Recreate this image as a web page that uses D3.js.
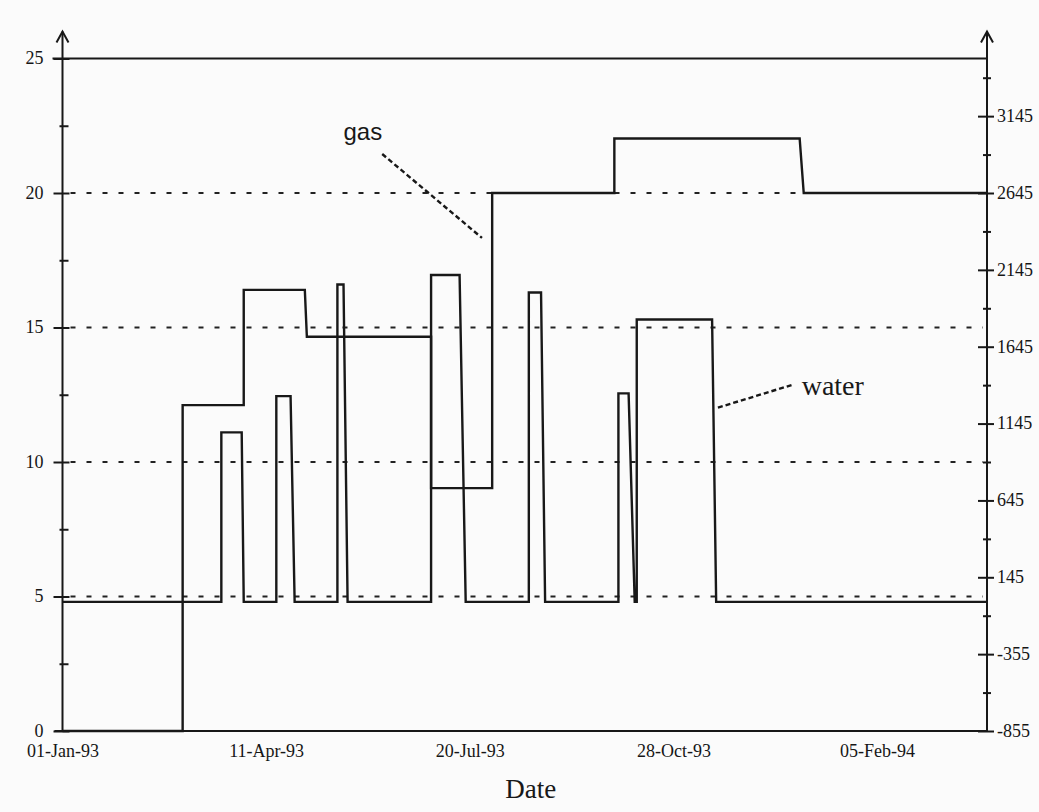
<!DOCTYPE html>
<html>
<head>
<meta charset="utf-8">
<script src="https://cdn.jsdelivr.net/npm/d3@7"></script>
<style>
  body { margin: 0; background: #fbfbfb; }
  svg { display: block; }
  .tick text { font-family: "Liberation Serif", "Times New Roman", serif; font-size: 18px; fill: #161616; }
</style>
</head>
<body>
<div id="chart"></div>
<script>
// step series: [date, value]
var water = [
  ["1993-01-01", 4.8],
  ["1993-03-20", 4.8], ["1993-03-20", 11.1], ["1993-03-30", 11.1], ["1993-03-31", 4.8],
  ["1993-04-16", 4.8], ["1993-04-16", 12.45], ["1993-04-23", 12.45], ["1993-04-25", 4.8],
  ["1993-05-16", 4.8], ["1993-05-16", 16.6], ["1993-05-19", 16.6], ["1993-05-21", 4.8],
  ["1993-07-01", 4.8], ["1993-07-01", 16.95], ["1993-07-15", 16.95], ["1993-07-18", 4.8],
  ["1993-08-18", 4.8], ["1993-08-18", 16.3], ["1993-08-24", 16.3], ["1993-08-26", 4.8],
  ["1993-10-01", 4.8], ["1993-10-01", 12.55], ["1993-10-06", 12.55], ["1993-10-09", 4.8],
  ["1993-10-10", 4.8], ["1993-10-10", 15.3], ["1993-11-16", 15.3], ["1993-11-18", 4.8],
  ["1994-03-31", 4.8]
];
// gas uses the right axis
var gas = [
  ["1993-01-01", -855], ["1993-03-01", -855], ["1993-03-01", 1265], ["1993-03-31", 1265],
  ["1993-03-31", 2015], ["1993-04-30", 2015], ["1993-05-01", 1710], ["1993-07-01", 1710],
  ["1993-07-01", 725], ["1993-07-31", 725], ["1993-07-31", 2645], ["1993-09-29", 2645],
  ["1993-09-29", 3000], ["1993-12-29", 3000], ["1993-12-31", 2645], ["1994-03-31", 2645]
];
var dateTicks = ["1993-01-01", "1993-04-11", "1993-07-20", "1993-10-28", "1994-02-05"];
var leftTicks = [0, 5, 10, 15, 20, 25];
var leftMinor = [2.5, 7.5, 12.5, 17.5, 22.5];
var rightTicks = [-855, -355, 145, 645, 1145, 1645, 2145, 2645, 3145];
var rightMinor = [-605, -105, 395, 895, 1395, 1895, 2395, 2895, 3395];
var dottedLevels = [5, 10, 15, 20];
// labels with their pointer lines (left axis units)
var labels = [
  { text: "gas", date: "1993-05-19", value: 21.97, font: "\"Liberation Sans\", Arial, sans-serif", size: 24,
    from: ["1993-06-07", 21.45], to: ["1993-07-26", 18.33] },
  { text: "water", date: "1993-12-30", value: 12.49, font: "\"Liberation Serif\", serif", size: 28,
    from: ["1993-12-25", 12.86], to: ["1993-11-18", 12.0] }
];

var parse = d3.timeParse("%Y-%m-%d");
var fmt = d3.timeFormat("%d-%b-%y");
var ink = "#181818";

var width = 1039, height = 812;
var svg = d3.select("#chart").append("svg")
  .attr("width", width)
  .attr("height", height);

var x = d3.scaleTime()
  .domain([parse("1993-01-01"), parse("1994-03-31")])
  .range([62.5, 987]);
var y = d3.scaleLinear().domain([0, 25]).range([731, 58.5]);
var yR = d3.scaleLinear().domain([-855, 2645]).range([y(0), y(20)]);

var x0 = x.range()[0], x1 = x.range()[1];

// dotted gridlines
svg.selectAll("line.grid")
  .data(dottedLevels)
  .enter()
  .append("line")
  .attr("class", "grid")
  .attr("x1", x0 + 8).attr("x2", x1 - 4)
  .attr("y1", function (d) { return y(d) }).attr("y2", function (d) { return y(d) })
  .attr("stroke", "#222")
  .attr("stroke-width", 2.2)
  .attr("stroke-dasharray", "5,11");

// solid line at the top value
svg.append("line")
  .attr("x1", x0 - 10).attr("x2", x1)
  .attr("y1", y(25)).attr("y2", y(25))
  .attr("stroke", ink).attr("stroke-width", 2.2);

// left axis
var leftAxis = svg.append("g")
  .attr("transform", "translate(" + x0 + ",0)")
  .call(d3.axisLeft(y).tickValues(leftTicks).tickSize(9).tickPadding(10));
leftAxis.select(".domain").remove();
leftAxis.selectAll(".tick line").attr("x2", -9).attr("x1", 7).attr("stroke", ink).attr("stroke-width", 2);
leftAxis.selectAll(".tick text").attr("dy", "0.3em");

svg.append("g")
  .attr("transform", "translate(" + x0 + ",0)")
  .call(d3.axisLeft(y).tickValues(leftMinor).tickSize(0).tickFormat(""))
  .call(function (g) {
    g.select(".domain").remove();
    g.selectAll(".tick line").attr("x1", -3).attr("x2", 6).attr("stroke", ink).attr("stroke-width", 2);
  });

// right axis
var rightAxis = svg.append("g")
  .attr("transform", "translate(" + x1 + ",0)")
  .call(d3.axisRight(yR).tickValues(rightTicks).tickSize(9).tickPadding(1)
    .tickFormat(function (d) { return String(d) }));
rightAxis.select(".domain").remove();
rightAxis.selectAll(".tick line").attr("x1", -9).attr("x2", 7).attr("stroke", ink).attr("stroke-width", 2);
rightAxis.selectAll(".tick text").attr("dy", "0.3em");

svg.append("g")
  .attr("transform", "translate(" + x1 + ",0)")
  .call(d3.axisRight(yR).tickValues(rightMinor).tickSize(0).tickFormat(""))
  .call(function (g) {
    g.select(".domain").remove();
    g.selectAll(".tick line").attr("x1", -4).attr("x2", 4).attr("stroke", ink).attr("stroke-width", 2);
  });

// vertical axis lines with arrow heads
[x0, x1].forEach(function (ax) {
  var top = y(25) - 27;
  svg.append("line")
    .attr("x1", ax).attr("x2", ax)
    .attr("y1", y(0)).attr("y2", top)
    .attr("stroke", ink).attr("stroke-width", 2);
  svg.append("path")
    .attr("d", "M" + (ax - 6) + "," + (top + 11) + "L" + ax + "," + top + "L" + (ax + 6) + "," + (top + 11))
    .attr("fill", "none").attr("stroke", ink).attr("stroke-width", 2);
});

// x axis
var xAxis = svg.append("g")
  .attr("transform", "translate(0," + y(0) + ")")
  .call(d3.axisBottom(x).tickValues(dateTicks.map(parse)).tickFormat(fmt).tickSize(0).tickPadding(12));
xAxis.select(".domain").remove();
xAxis.selectAll(".tick text").attr("dy", "0.75em");
svg.append("line")
  .attr("x1", x0 - 8).attr("x2", x1)
  .attr("y1", y(0)).attr("y2", y(0))
  .attr("stroke", ink).attr("stroke-width", 2.2);

svg.append("text")
  .attr("x", (x0 + x1) / 2 + 6)
  .attr("y", 798)
  .style("text-anchor", "middle")
  .style("font-family", "\"Liberation Serif\", serif")
  .style("font-size", "27px")
  .style("fill", ink)
  .text("Date");

// series lines
var lineL = d3.line()
  .x(function (d) { return x(parse(d[0])) })
  .y(function (d) { return y(d[1]) });
var lineR = d3.line()
  .x(function (d) { return x(parse(d[0])) })
  .y(function (d) { return yR(d[1]) });

svg.append("path")
  .datum(water)
  .attr("d", lineL)
  .attr("fill", "none")
  .attr("stroke", ink)
  .attr("stroke-width", 2.4);

svg.append("path")
  .datum(gas)
  .attr("d", lineR)
  .attr("fill", "none")
  .attr("stroke", ink)
  .attr("stroke-width", 2.4);

// labels and dashed pointers
labels.forEach(function (l) {
  svg.append("line")
    .attr("x1", x(parse(l.from[0]))).attr("y1", y(l.from[1]))
    .attr("x2", x(parse(l.to[0]))).attr("y2", y(l.to[1]))
    .attr("stroke", ink)
    .attr("stroke-width", 2.4)
    .attr("stroke-dasharray", "5,3");
  svg.append("text")
    .attr("x", x(parse(l.date)))
    .attr("y", y(l.value))
    .style("font-family", l.font)
    .style("font-size", l.size + "px")
    .style("fill", ink)
    .text(l.text);
});
</script>
</body>
</html>
